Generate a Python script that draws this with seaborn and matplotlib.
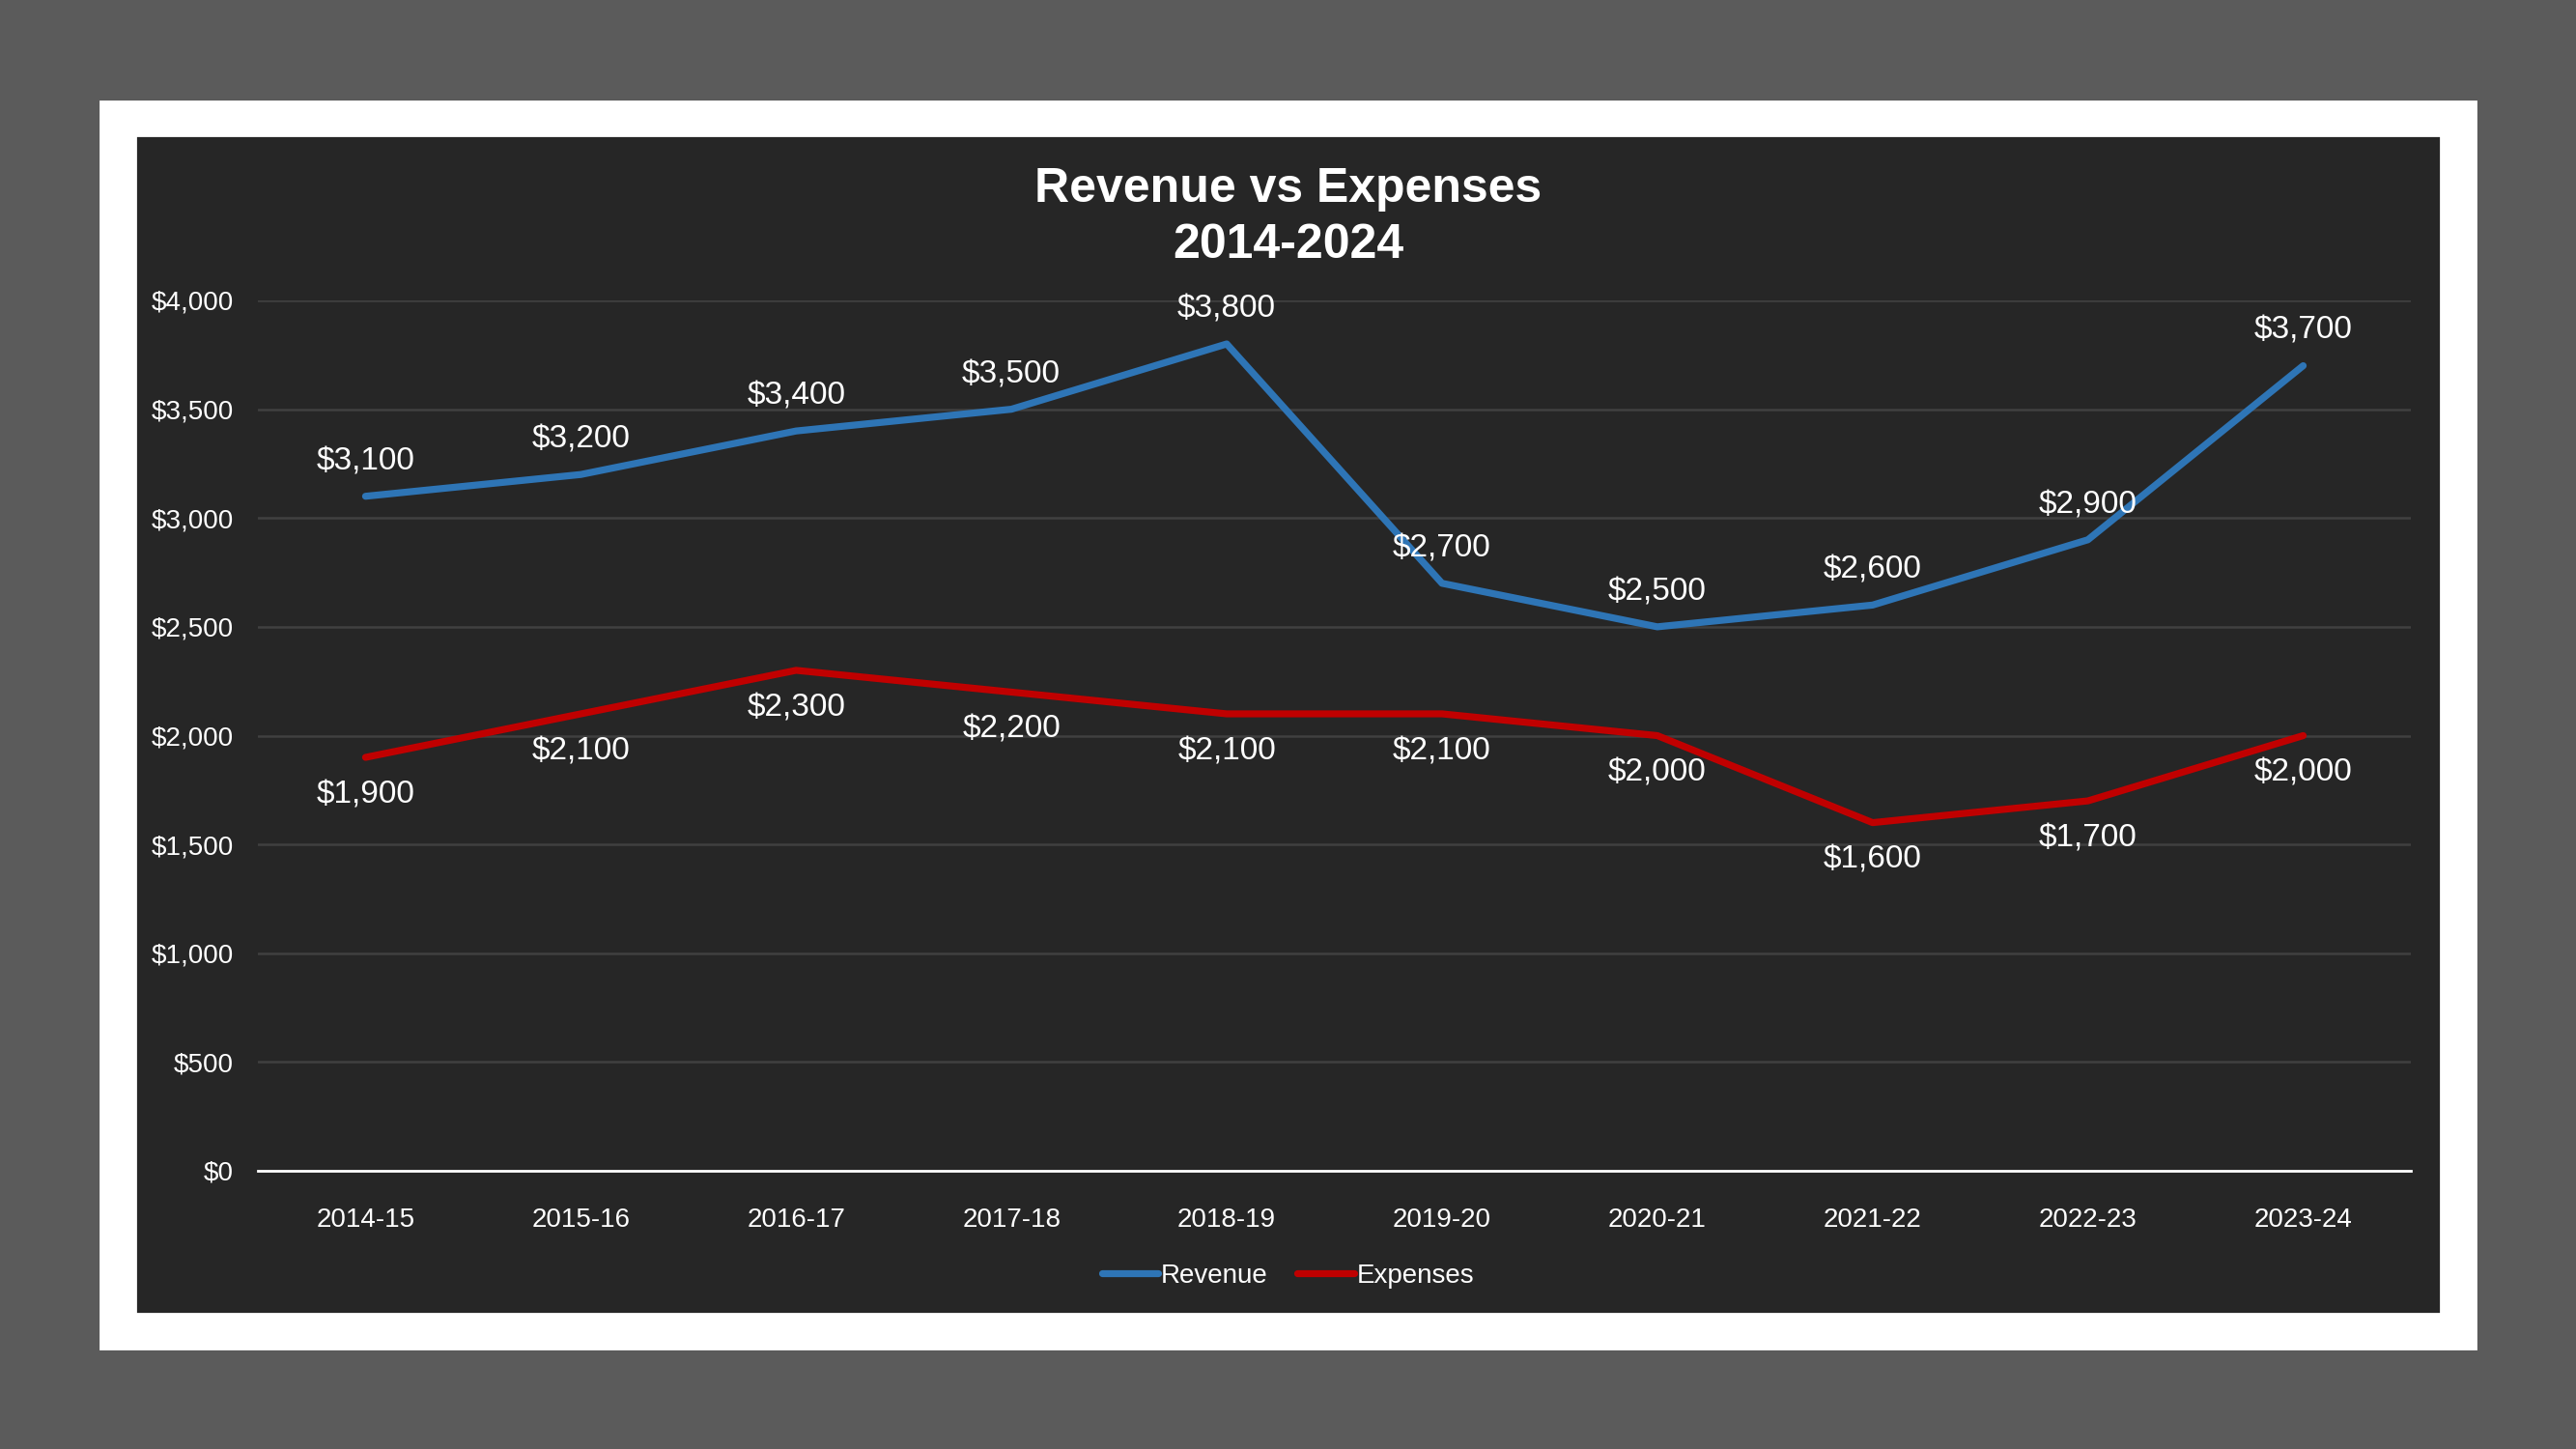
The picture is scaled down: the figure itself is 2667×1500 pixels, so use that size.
import pandas as pd
import seaborn as sns
import matplotlib.pyplot as plt
from matplotlib.patches import Rectangle

years = ["2014-15", "2015-16", "2016-17", "2017-18", "2018-19",
         "2019-20", "2020-21", "2021-22", "2022-23", "2023-24"]
revenue = [3100, 3200, 3400, 3500, 3800, 2700, 2500, 2600, 2900, 3700]
expenses = [1900, 2100, 2300, 2200, 2100, 2100, 2000, 1600, 1700, 2000]
series = ["Revenue", "Expenses"]
colors = {"Revenue": "#2e75b6", "Expenses": "#c00000"}
y_ticks = [0, 500, 1000, 1500, 2000, 2500, 3000, 3500, 4000]

W, H = 2667, 1500


def main():
    df = pd.DataFrame({
        "year": years * 2,
        "value": revenue + expenses,
        "series": [series[0]] * len(years) + [series[1]] * len(years),
    })

    sns.set_style("dark")
    plt.rcParams["font.family"] = ["Liberation Sans", "DejaVu Sans"]

    fig = plt.figure(figsize=(W / 200, H / 200), dpi=200, facecolor="#5b5b5b")
    # white frame and dark chart area
    fig.patches.append(Rectangle((104 / W, 1 - 1396 / H), (2563 - 104) / W, (1396 - 105) / H,
                                 transform=fig.transFigure, facecolor="white", zorder=-2))
    fig.patches.append(Rectangle((140 / W, 1 - 1360 / H), (2527 - 140) / W, (1360 - 140) / H,
                                 transform=fig.transFigure, facecolor="#262626", zorder=-1))

    ax = fig.add_axes([267 / W, 1 - 1212 / H, (2496 - 267) / W, (1212 - 311) / H])
    ax.set_facecolor("none")

    sns.lineplot(data=df, x="year", y="value", hue="series", palette=colors,
                 linewidth=2.6, ax=ax, sort=False, legend=True,
                 solid_capstyle="round")

    for i, (r, e) in enumerate(zip(revenue, expenses)):
        ax.annotate(f"${r:,}", (i, r), xytext=(0, 13), textcoords="offset points",
                    ha="center", va="center", color="white", fontsize=12)
        ax.annotate(f"${e:,}", (i, e), xytext=(0, -14), textcoords="offset points",
                    ha="center", va="center", color="white", fontsize=12)

    ax.set_xlim(-0.5, 9.5)
    ax.set_ylim(0, 4000)
    ax.set_yticks(y_ticks)
    ax.set_yticklabels([f"${v:,}" for v in y_ticks])
    ax.set_xticks(range(len(years)))
    ax.set_xticks([9.5], minor=True)
    ax.set_xlabel("")
    ax.set_ylabel("")

    ax.grid(axis="y", color="#404040", linewidth=0.9)
    ax.grid(axis="x", visible=False)
    for s in ["top", "right", "left"]:
        ax.spines[s].set_visible(False)
    ax.spines["bottom"].set_color("white")
    ax.spines["bottom"].set_linewidth(1.0)
    ax.spines["bottom"].set_zorder(3)

    ax.tick_params(axis="x", which="both", direction="inout", length=4.7, width=1.0,
                   color="white", labelcolor="white", labelsize=10, pad=11.5)
    ax.tick_params(axis="y", length=0, labelcolor="white", labelsize=10, pad=9)

    handles, labels = ax.get_legend_handles_labels()
    ax.legend(handles, labels, loc="center", bbox_to_anchor=(0.5, 1 - 1321 / H),
              bbox_transform=fig.transFigure, ncol=2, frameon=False,
              handlelength=2.1, handletextpad=0.1, columnspacing=1.1,
              labelcolor="white", fontsize=10)

    fig.text(0.5, 1 - 225 / H, "Revenue vs Expenses\n2014-2024", ha="center", va="center",
             color="white", fontsize=18, fontweight="bold", linespacing=1.35)

    fig.savefig("out.png", dpi=200, facecolor=fig.get_facecolor())


if __name__ == "__main__":
    main()
